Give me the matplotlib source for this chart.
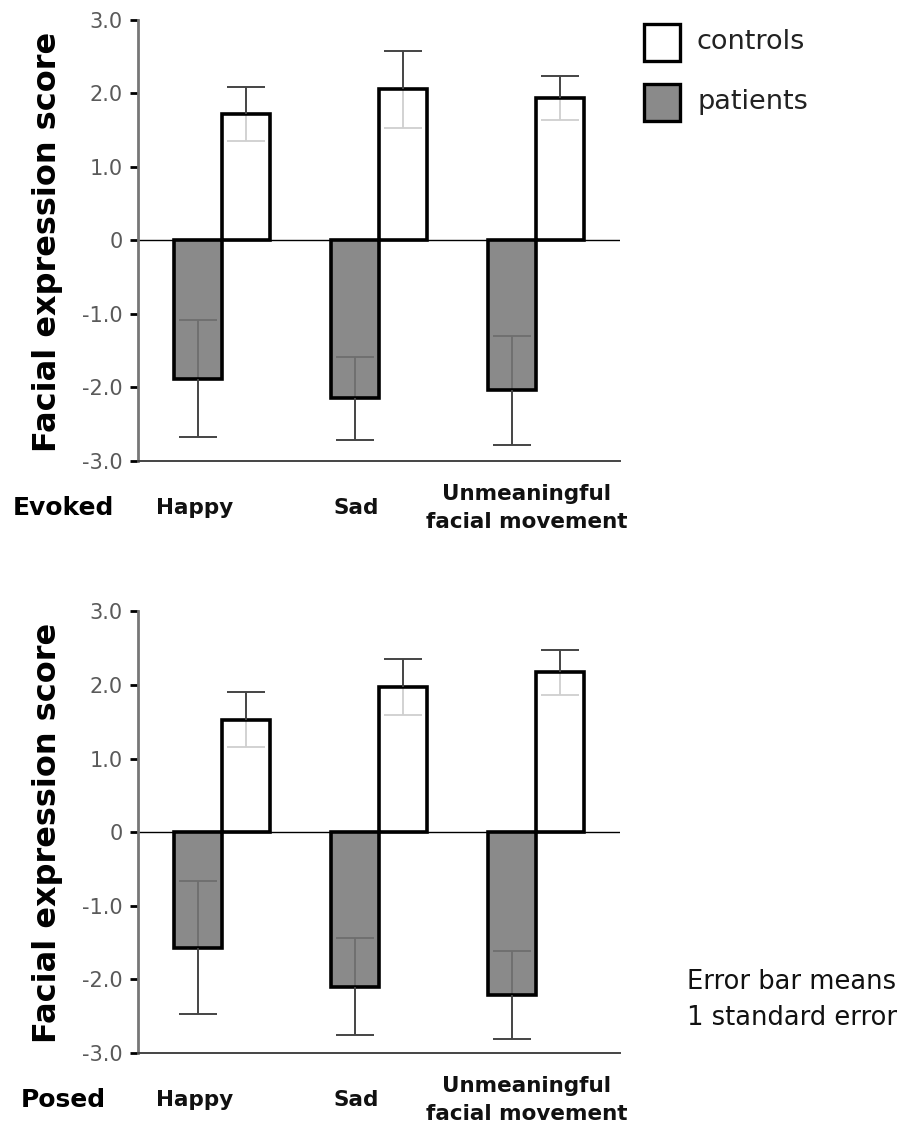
import matplotlib
matplotlib.use("Agg")
import matplotlib.pyplot as plt
from matplotlib.patches import Rectangle
import numpy as np

plt.rcParams['font.family'] = ['DejaVu Sans']

# ---------------- data ----------------
categories = ["Happy", "Sad", "Unmeaningful\nfacial movement"]
series_names = ["controls", "patients"]

evoked_controls = [1.72, 2.05, 1.93]
evoked_controls_se = [0.37, 0.52, 0.30]
evoked_patients = [-1.88, -2.15, -2.04]
evoked_patients_se = [0.80, 0.57, 0.74]

posed_controls = [1.53, 1.97, 2.17]
posed_controls_se = [0.37, 0.38, 0.31]
posed_patients = [-1.57, -2.10, -2.21]
posed_patients_se = [0.90, 0.66, 0.60]

yticks = [3.0, 2.0, 1.0, 0.0, -1.0, -2.0, -3.0]
ytick_labels = ["3.0", "2.0", "1.0", "0", "-1.0", "-2.0", "-3.0"]
panel_names = ["Evoked", "Posed"]

# ---------------- style ----------------
W, H = 910, 1131
CTRL_FILL = "white"
PAT_FILL = "#8a8a8a"
EDGE_LW = 2.6
ERR_OUT = "#444444"
ERR_IN_CTRL = "#cfcfcf"
ERR_IN_PAT = "#6e6e6e"
BAR_W = 0.305
CAP_HALF = 0.122

fig = plt.figure(figsize=(W / 100, H / 100), dpi=100)


def px_axes(left, top, right, bottom):
    return [left / W, 1 - bottom / H, (right - left) / W, (bottom - top) / H]


def draw_panel(ax, ctrl, ctrl_se, pat, pat_se):
    x = np.arange(len(ctrl))
    xc = x + BAR_W / 2
    xp = x - BAR_W / 2
    ctrl = np.array(ctrl); ctrl_se = np.array(ctrl_se)
    pat = np.array(pat); pat_se = np.array(pat_se)

    ax.axhline(0, color="black", lw=1.0, zorder=1)
    # fills
    ax.bar(xp, pat, BAR_W, color=PAT_FILL, edgecolor="none", zorder=2)
    ax.bar(xc, ctrl, BAR_W, color=CTRL_FILL, edgecolor="none", zorder=2)
    # inner halves of error bars (inside the bars)
    ax.vlines(xc, ctrl - ctrl_se, ctrl, color=ERR_IN_CTRL, lw=1.3, zorder=3)
    ax.hlines(ctrl - ctrl_se, xc - CAP_HALF, xc + CAP_HALF, color=ERR_IN_CTRL, lw=1.3, zorder=3)
    ax.vlines(xp, pat, pat + pat_se, color=ERR_IN_PAT, lw=1.3, zorder=3)
    ax.hlines(pat + pat_se, xp - CAP_HALF, xp + CAP_HALF, color=ERR_IN_PAT, lw=1.3, zorder=3)
    # edges
    ax.bar(xp, pat, BAR_W, color="none", edgecolor="black", lw=EDGE_LW, zorder=4)
    ax.bar(xc, ctrl, BAR_W, color="none", edgecolor="black", lw=EDGE_LW, zorder=4)
    # outer halves
    ax.vlines(xc, ctrl, ctrl + ctrl_se, color=ERR_OUT, lw=1.4, zorder=5)
    ax.hlines(ctrl + ctrl_se, xc - CAP_HALF, xc + CAP_HALF, color=ERR_OUT, lw=1.4, zorder=5)
    ax.vlines(xp, pat - pat_se, pat, color=ERR_OUT, lw=1.4, zorder=5)
    ax.hlines(pat - pat_se, xp - CAP_HALF, xp + CAP_HALF, color=ERR_OUT, lw=1.4, zorder=5)

    ax.set_xlim(-0.535, 2.535)
    ax.set_ylim(-3.0, 3.0)
    ax.set_yticks(yticks)
    ax.set_yticklabels(ytick_labels)
    ax.set_xticks([])
    for s in ["top", "right"]:
        ax.spines[s].set_visible(False)
    ax.spines["left"].set_color("#777777")
    ax.spines["left"].set_linewidth(2.0)
    ax.spines["bottom"].set_color("#444444")
    ax.spines["bottom"].set_linewidth(1.4)
    ax.tick_params(axis="y", direction="out", length=6, width=2, color="black",
                   labelsize=15, labelcolor="#5a5a5a", pad=5)
    ax.patch.set_visible(False)


ax1 = fig.add_axes(px_axes(138, 19.6, 620, 461))
ax2 = fig.add_axes(px_axes(138, 611.3, 620, 1053))
draw_panel(ax1, evoked_controls, evoked_controls_se, evoked_patients, evoked_patients_se)
draw_panel(ax2, posed_controls, posed_controls_se, posed_patients, posed_patients_se)

# y labels
for yc in [242, 833]:
    fig.text(48 / W, 1 - yc / H, "Facial expression score", rotation=90,
             ha="center", va="center", fontsize=23, fontweight="bold", color="black")

# category labels and panel names
cat_x = [195, 356, 527]
for name, ycen in zip(panel_names, [508, 1100]):
    fig.text(63 / W, 1 - ycen / H, name, ha="center", va="center",
             fontsize=18, fontweight="bold", color="black")
    for cx, cat in zip(cat_x, categories):
        fig.text(cx / W, 1 - ycen / H, cat, ha="center", va="center",
                 fontsize=15.5, fontweight="bold", color="#111111", linespacing=1.5)

# legend (boxes + labels)
legend_fills = [CTRL_FILL, PAT_FILL]
legend_y = [42, 102]
for fill, label, yc in zip(legend_fills, series_names, legend_y):
    fig.add_artist(Rectangle((644 / W, 1 - (yc + 19) / H), 36 / W, 37 / H,
                             transform=fig.transFigure, facecolor=fill,
                             edgecolor="black", lw=2.4))
    fig.text(697 / W, 1 - yc / H, label, ha="left", va="center",
             fontsize=19.5, color="#222222")

fig.text(687 / W, 1 - 982 / H, "Error bar means", ha="left", va="center",
         fontsize=18.5, color="#111111")
fig.text(687 / W, 1 - 1018 / H, "1 standard error", ha="left", va="center",
         fontsize=18.5, color="#111111")

fig.savefig("out.png", dpi=100, facecolor="white")
